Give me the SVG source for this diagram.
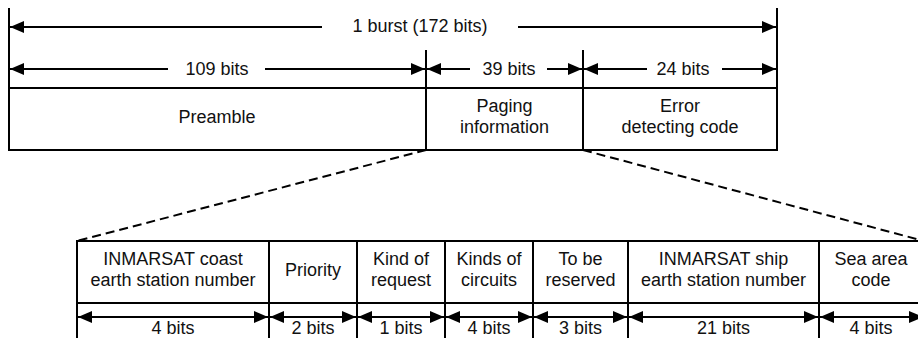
<svg xmlns="http://www.w3.org/2000/svg" width="918" height="338" viewBox="0 0 918 338">
<style>
.ln{stroke:#000;stroke-width:2;fill:none}
.dash{stroke:#000;stroke-width:2;fill:none;stroke-dasharray:9 5}
.ar{stroke:#000;stroke-width:2;fill:none}
.s{marker-start:url(#ah)}
.e{marker-end:url(#ah)}
.b{marker-start:url(#ah);marker-end:url(#ah)}
text{font-family:"Liberation Sans",Arial,sans-serif;font-size:18px;fill:#111;text-anchor:middle}
</style>
<defs>
<marker id="ah" markerUnits="userSpaceOnUse" markerWidth="15" markerHeight="12" refX="14" refY="6" orient="auto-start-reverse" viewBox="0 0 15 12">
<path d="M0,0 L14,6 L0,12 z" fill="#000"/>
</marker>
</defs>
<g id="burst">
<line class="ln" x1="9" y1="8" x2="9" y2="151"/>
<line class="ln" x1="777" y1="8" x2="777" y2="151"/>
<line class="ln" x1="426" y1="50" x2="426" y2="150"/>
<line class="ln" x1="583" y1="50" x2="583" y2="150"/>
</g>
<g id="preamble">
<rect class="ln" x="9" y="88" width="417" height="62"/>
<text x="217" y="122.5">Preamble</text>
</g>
<g id="paging">
<rect class="ln" x="426" y="88" width="157" height="62"/>
<text x="504.5" y="112">Paging</text>
<text x="504.5" y="133">information</text>
</g>
<g id="error">
<rect class="ln" x="583" y="88" width="194" height="62"/>
<text x="680" y="112">Error</text>
<text x="680" y="133">detecting code</text>
</g>
<g id="f1">
<rect class="ln" x="77" y="241" width="192" height="62"/>
<text x="173" y="265">INMARSAT coast</text>
<text x="173" y="286">earth station number</text>
<text x="173" y="334">4 bits</text>
</g>
<g id="f2">
<rect class="ln" x="269" y="241" width="88" height="62"/>
<text x="313" y="276">Priority</text>
<text x="313" y="334">2 bits</text>
</g>
<g id="f3">
<rect class="ln" x="357" y="241" width="88" height="62"/>
<text x="401" y="265">Kind of</text>
<text x="401" y="286">request</text>
<text x="401" y="334">1 bits</text>
</g>
<g id="f4">
<rect class="ln" x="445" y="241" width="88" height="62"/>
<text x="489" y="265">Kinds of</text>
<text x="489" y="286">circuits</text>
<text x="489" y="334">4 bits</text>
</g>
<g id="f5">
<rect class="ln" x="533" y="241" width="95" height="62"/>
<text x="580.5" y="265">To be</text>
<text x="580.5" y="286">reserved</text>
<text x="580.5" y="334">3 bits</text>
</g>
<g id="f6">
<rect class="ln" x="628" y="241" width="191" height="62"/>
<text x="723.5" y="265">INMARSAT ship</text>
<text x="723.5" y="286">earth station number</text>
<text x="723.5" y="334">21 bits</text>
</g>
<g id="f7">
<rect class="ln" x="819" y="241" width="105" height="62"/>
<text x="871" y="265">Sea area</text>
<text x="871" y="286">code</text>
<text x="871" y="334">4 bits</text>
</g>
<g id="connectors">
<line class="ar s" x1="10" y1="27" x2="322" y2="27"/>
<line class="ar e" x1="518" y1="27" x2="776" y2="27"/>
<text x="420" y="32">1 burst (172 bits)</text>
<line class="ar s" x1="10" y1="69" x2="168" y2="69"/>
<line class="ar e" x1="265" y1="69" x2="425" y2="69"/>
<text x="217" y="75">109 bits</text>
<line class="ar s" x1="427" y1="69" x2="470" y2="69"/>
<line class="ar e" x1="547" y1="69" x2="582" y2="69"/>
<text x="509" y="75">39 bits</text>
<line class="ar s" x1="584" y1="69" x2="647" y2="69"/>
<line class="ar e" x1="722" y1="69" x2="776" y2="69"/>
<text x="683" y="75">24 bits</text>
<line class="dash" x1="426" y1="150" x2="77" y2="241"/>
<line class="dash" x1="583" y1="150" x2="924" y2="241"/>
<line class="ln" x1="77" y1="303" x2="77" y2="338"/>
<line class="ln" x1="269" y1="303" x2="269" y2="338"/>
<line class="ln" x1="357" y1="303" x2="357" y2="338"/>
<line class="ln" x1="445" y1="303" x2="445" y2="338"/>
<line class="ln" x1="533" y1="303" x2="533" y2="338"/>
<line class="ln" x1="628" y1="303" x2="628" y2="338"/>
<line class="ln" x1="819" y1="303" x2="819" y2="338"/>
<line class="ar b" x1="78" y1="317" x2="268" y2="317"/>
<line class="ar b" x1="270" y1="317" x2="356" y2="317"/>
<line class="ar b" x1="358" y1="317" x2="444" y2="317"/>
<line class="ar b" x1="446" y1="317" x2="532" y2="317"/>
<line class="ar b" x1="534" y1="317" x2="627" y2="317"/>
<line class="ar b" x1="629" y1="317" x2="818" y2="317"/>
<line class="ar b" x1="820" y1="317" x2="923" y2="317"/>
</g>
</svg>
